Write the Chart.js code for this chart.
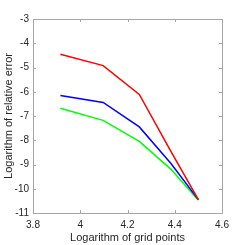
<!DOCTYPE html>
<html><head><meta charset="utf-8">
<script src="https://cdn.jsdelivr.net/npm/chart.js@4/dist/chart.umd.min.js"></script>
<style>html,body{margin:0;padding:0;background:#fff}#w{width:245px;height:245px}</style>
</head><body><div id="w"><canvas id="c"></canvas></div>
<script>
const gridPoints = [3.916, 4.097, 4.25, 4.383, 4.5];
const redErr = [-4.45, -4.92, -6.11, -8.45, -10.45];
const blueErr = [-6.15, -6.44, -7.45, -8.95, -10.45];
const greenErr = [-6.68, -7.18, -8.05, -9.19, -10.47];
const xTicks = [3.8, 4, 4.2, 4.4, 4.6];
const yTicks = [-3, -4, -5, -6, -7, -8, -9, -10, -11];

function pts(ys){ return gridPoints.map((x,i)=>({x:x,y:ys[i]})); }

const boxPlugin = {
  id:'box',
  afterDatasetsDraw(chart){
    const {ctx, chartArea:a, scales:{x,y}} = chart;
    ctx.save();
    ctx.strokeStyle = '#a6a6a6';
    ctx.lineWidth = 1;
    ctx.beginPath();
    ctx.rect(Math.round(a.left)+0.5, Math.round(a.top)+0.5, Math.round(a.right-a.left), Math.round(a.bottom-a.top));
    const L = 3;
    x.ticks.forEach(t=>{
      const px = Math.round(x.getPixelForValue(t.value))+0.5;
      ctx.moveTo(px, a.bottom); ctx.lineTo(px, a.bottom-L);
      ctx.moveTo(px, a.top); ctx.lineTo(px, a.top+L);
    });
    y.ticks.forEach(t=>{
      const py = Math.round(y.getPixelForValue(t.value))+0.5;
      ctx.moveTo(a.left, py); ctx.lineTo(a.left+L, py);
      ctx.moveTo(a.right, py); ctx.lineTo(a.right-L, py);
    });
    ctx.stroke();
    ctx.restore();
  }
};

const mk = (ys,c)=>({data:pts(ys), borderColor:c, backgroundColor:c, borderWidth:1.5, showLine:true, pointRadius:0, tension:0, fill:false});

new Chart(document.getElementById('c'), {
  type:'scatter',
  data:{datasets:[mk(redErr,'#ff0000'), mk(blueErr,'#0000ff'), mk(greenErr,'#00ff00')]},
  plugins:[boxPlugin],
  options:{
    responsive:true, maintainAspectRatio:false, animation:false,
    layout:{padding:{left:2,right:23,top:19,bottom:0}},
    plugins:{legend:{display:false}, tooltip:{enabled:false}},
    scales:{
      x:{
        type:'linear', min:3.8, max:4.6,
        afterBuildTicks(s){ s.ticks = xTicks.map(v=>({value:v})); },
        afterFit(s){ s.height = 32; },
        grid:{display:false, drawTicks:false},
        border:{display:false},
        ticks:{color:'#262626', font:{family:'Liberation Sans', size:10}, padding:6, maxRotation:0,
          callback:v=>String(+v.toFixed(1))},
        title:{display:true, text:'Logarithm of grid points', color:'#262626', font:{family:'Liberation Sans', size:11}, padding:{top:0,bottom:0}}
      },
      y:{
        type:'linear', min:-11, max:-3,
        afterBuildTicks(s){ s.ticks = yTicks.map(v=>({value:v})); },
        afterFit(s){ s.width = 31; },
        grid:{display:false, drawTicks:false},
        border:{display:false},
        ticks:{color:'#262626', font:{family:'Liberation Sans', size:10}, padding:4,
          callback:v=>String(v)},
        title:{display:true, text:'Logarithm of relative error', color:'#262626', font:{family:'Liberation Sans', size:11}, padding:{top:0,bottom:0}}
      }
    }
  }
});
</script></body></html>
